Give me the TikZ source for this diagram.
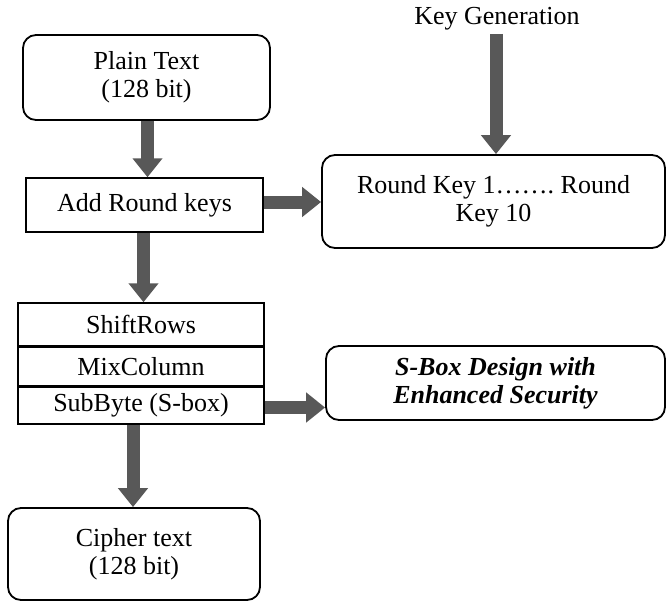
\documentclass[tikz,border=0pt]{standalone}
\usepackage{fontspec}
\setmainfont{Liberation Serif}
\newfontfamily\timesfont{Liberation Serif}
\usetikzlibrary{positioning,arrows.meta}
\definecolor{arrowgray}{RGB}{88,88,88}
\tikzset{
  roundbox/.style={draw,line width=1.8pt,rounded corners=13pt,align=center,inner sep=0pt},
  plainbox/.style={draw,line width=1.5pt,align=center,inner sep=0pt},
  fatarrow/.style={arrowgray,line width=13pt,-{Triangle[width=29pt,length=19pt]}},
}
\begin{document}
\begin{tikzpicture}[x=1pt,y=-1pt,font=\timesfont\fontsize{26}{28}\selectfont]
  \useasboundingbox (0,0) rectangle (667,603);
  % left column
  \node (plain) [roundbox,minimum width=247pt,minimum height=85pt] at (146.5,77.5) {Plain Text\\(128 bit)};
  \node (addkey) [plainbox,minimum width=237pt,minimum height=54pt] at (144.5,205) {Add Round keys};
  \node (shift) [plainbox,minimum width=246pt,minimum height=43pt] at (141,324.5) {ShiftRows};
  \node (mix) [plainbox,minimum width=246pt,minimum height=38pt,below=0pt of shift] {MixColumn};
  \node (sub) [plainbox,minimum width=246pt,minimum height=37pt,below=0pt of mix] {SubByte (S-box)};
  \node (cipher) [roundbox,minimum width=252pt,minimum height=92pt] at (134,554) {Cipher text\\(128 bit)};
  % right column
  \node (keygen) at (497,19) {Key Generation};
  \node (roundkey) [roundbox,minimum width=343pt,minimum height=93pt] at (493.5,201.5) {Round Key 1\dots\dots.\ Round\\Key 10};
  \node (sbox) [roundbox,minimum width=339pt,minimum height=74pt] at (495.5,383) {\textbf{\textit{S-Box Design with}}\\\textbf{\textit{Enhanced Security}}};
  % arrows
  \draw[fatarrow] ([xshift=1pt]plain.south) -- ([xshift=1pt]plain.south |- addkey.north);
  \draw[fatarrow] ([xshift=-1pt]keygen.south) -- ([xshift=-1pt]keygen.south |- roundkey.north);
  \draw[fatarrow] ([yshift=3pt]addkey.east) -- ([yshift=3pt]addkey.east -| roundkey.west);
  \draw[fatarrow] ([xshift=-1pt]addkey.south) -- ([xshift=-1pt]addkey.south |- shift.north);
  \draw[fatarrow] ([yshift=-2pt]sub.east) -- ([yshift=-2pt]sub.east -| sbox.west);
  \draw[fatarrow] ([xshift=-8pt]sub.south) -- ([xshift=-8pt]sub.south |- cipher.north);
\end{tikzpicture}
\end{document}
